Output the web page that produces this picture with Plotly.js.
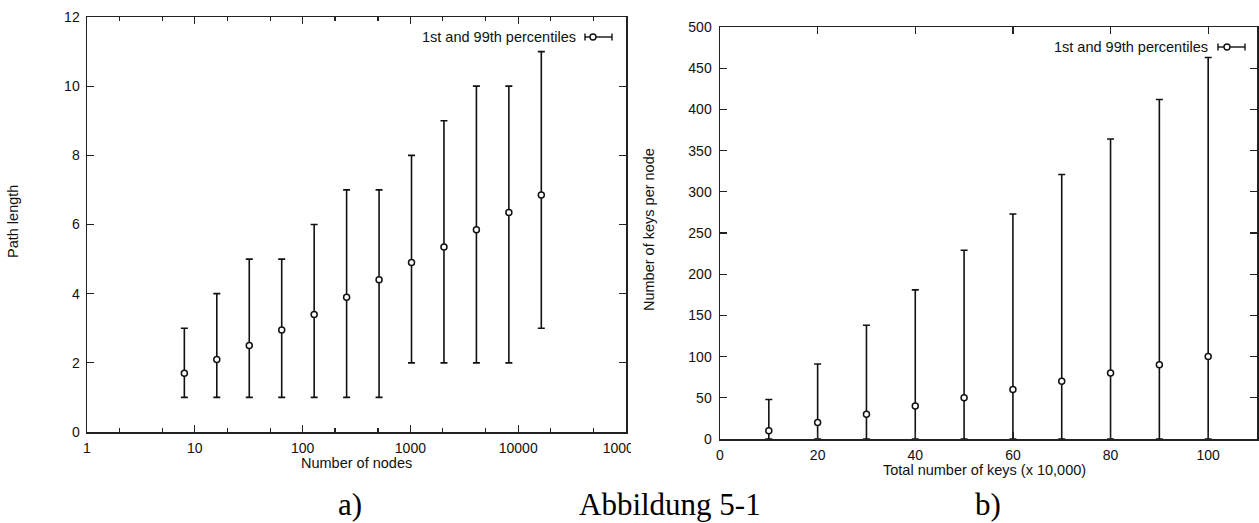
<!DOCTYPE html>
<html>
<head>
<meta charset="utf-8">
<script src="https://cdn.plot.ly/plotly-3.0.1.min.js"></script>
<style>html,body{margin:0;padding:0;background:#fff;}#chart{width:1259px;height:523px;}</style>
</head>
<body>
<div id="chart"></div>
<script>
// Panel a) path length vs number of nodes
const nodes = [8, 16, 32, 64, 128, 256, 512, 1024, 2048, 4096, 8192, 16384];
const pathMean = [1.7, 2.1, 2.5, 2.95, 3.4, 3.9, 4.4, 4.9, 5.35, 5.85, 6.35, 6.85];
const pathP1 = [1, 1, 1, 1, 1, 1, 1, 2, 2, 2, 2, 3];
const pathP99 = [3, 4, 5, 5, 6, 7, 7, 8, 9, 10, 10, 11];
const nodeTicks = [1, 10, 100, 1000, 10000, 100000];
const nodeTickText = ['1', '10', '100', '1000', '10000', '100000'];

// Panel b) keys per node vs total number of keys
const totalKeys = [10, 20, 30, 40, 50, 60, 70, 80, 90, 100];
const keysMean = [10, 20, 30, 40, 50, 60, 70, 80, 90, 100];
const keysP1 = [0, 0, 0, 0, 0, 0, 0, 0, 0, 0];
const keysP99 = [48, 91, 138, 181, 229, 273, 321, 364, 412, 463];

const seriesName = '1st and 99th percentiles';

const W = 1259, H = 523;
const px = x => x / W;
const py = y => 1 - y / H;

const sans = 'Liberation Sans, Arial, Helvetica, sans-serif';
const serif = 'Liberation Serif, Times New Roman, serif';
const ink = '#111';
const labelSize = 14.5;

function errTrace(x, mean, lo, hi, xa, ya) {
  return {
    x: x, y: mean, xaxis: xa, yaxis: ya, type: 'scatter', mode: 'markers',
    name: seriesName, showlegend: false,
    marker: {symbol: 'circle', size: 6, color: '#fff', line: {color: ink, width: 1.5}},
    error_y: {
      type: 'data', symmetric: false,
      array: hi.map((v, i) => v - mean[i]),
      arrayminus: lo.map((v, i) => mean[i] - v),
      color: ink, thickness: 1.6, width: 3.5
    },
    hoverinfo: 'x+y'
  };
}

const data = [
  errTrace(nodes, pathMean, pathP1, pathP99, 'x', 'y'),
  errTrace(totalKeys, keysMean, keysP1, keysP99, 'x2', 'y2')
];

const axBase = {
  showline: true, linecolor: '#222', linewidth: 1.5, mirror: 'ticks',
  ticks: 'inside', ticklen: 7, tickwidth: 1.3, tickcolor: '#222',
  showgrid: false, zeroline: false,
  tickfont: {family: sans, size: 14, color: ink}
};

function legendSymbol(x0, x1, xc, y) {
  const l = {type: 'line', xref: 'paper', yref: 'paper', line: {color: ink, width: 1.4}, layer: 'above'};
  return [
    Object.assign({}, l, {x0: px(x0), x1: px(x1), y0: py(y), y1: py(y)}),
    Object.assign({}, l, {x0: px(x0), x1: px(x0), y0: py(y - 3.5), y1: py(y + 3.5)}),
    Object.assign({}, l, {x0: px(x1), x1: px(x1), y0: py(y - 3.5), y1: py(y + 3.5)}),
    {type: 'circle', xref: 'paper', yref: 'paper', layer: 'above',
     x0: px(xc - 3), x1: px(xc + 3), y0: py(y + 3), y1: py(y - 3),
     fillcolor: '#fff', line: {color: ink, width: 1.4}}
  ];
}

function label(text, x, y, opts) {
  return Object.assign({
    text: text, xref: 'paper', yref: 'paper', x: px(x), y: py(y),
    showarrow: false, xanchor: 'center', yanchor: 'middle',
    font: {family: sans, size: labelSize, color: ink}
  }, opts || {});
}

const layout = {
  width: W, height: H,
  margin: {l: 0, r: 0, t: 0, b: 0},
  paper_bgcolor: '#fff', plot_bgcolor: '#fff',
  showlegend: false,
  xaxis: Object.assign({}, axBase, {
    type: 'log', domain: [px(87), px(626)], range: [0, 5],
    tickvals: nodeTicks, ticktext: nodeTickText, ticklabelstandoff: 3,
    minor: {dtick: 'D2', ticks: 'inside', ticklen: 4, tickwidth: 1.1, tickcolor: '#222'},
    anchor: 'y'
  }),
  yaxis: Object.assign({}, axBase, {
    domain: [py(432), py(17)], range: [0, 12], dtick: 2, tick0: 0,
    ticklabelstandoff: 3, anchor: 'x'
  }),
  xaxis2: Object.assign({}, axBase, {
    domain: [px(720), px(1257)], range: [0, 110], dtick: 20, tick0: 0,
    ticklabelstandoff: 3, anchor: 'y2'
  }),
  yaxis2: Object.assign({}, axBase, {
    domain: [py(439), py(27)], range: [0, 500], dtick: 50, tick0: 0,
    ticklabelstandoff: 4, anchor: 'x2'
  }),
  shapes: [].concat(
    legendSymbol(585, 612, 593, 37),
    legendSymbol(1218, 1245, 1227, 47),
    [{type: 'rect', xref: 'paper', yref: 'paper', layer: 'above',
      x0: px(631), x1: px(675), y0: py(458), y1: py(438),
      fillcolor: '#fff', line: {width: 0}}]
  ),
  annotations: [
    label('Path length', 13, 222, {textangle: -90}),
    label('Number of nodes', 356, 463),
    label('Number of keys per node', 649, 230, {textangle: -90}),
    label('Total number of keys (x 10,000)', 984, 470),
    label(seriesName, 578, 37, {xanchor: 'right'}),
    label(seriesName, 1210, 47, {xanchor: 'right'}),
    label('a)', 350, 504, {font: {family: serif, size: 31, color: '#000'}}),
    label('Abbildung 5-1', 670, 504, {font: {family: serif, size: 31, color: '#000'}}),
    label('b)', 988, 504, {font: {family: serif, size: 31, color: '#000'}})
  ]
};

Plotly.newPlot('chart', data, layout, {staticPlot: true, displayModeBar: false});
</script>
</body>
</html>
